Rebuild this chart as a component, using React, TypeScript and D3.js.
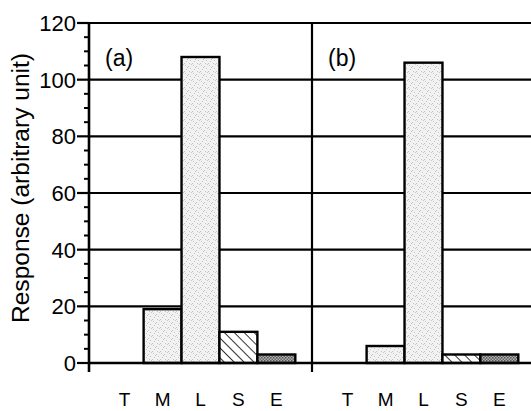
import React from "react";
import * as d3 from "d3";

const categories = ["T", "M", "L", "S", "E"];
const panelLabels = ["(a)", "(b)"];
const valuesA = [0, 19, 108, 11, 3];
const valuesB = [0, 6, 106, 3, 3];
const panels = [valuesA, valuesB];
const yMajorTicks = [0, 20, 40, 60, 80, 100, 120];
const yTitle = "Response (arbitrary unit)";

const W = 531;
const H = 411;
const left = 89;
const panelW = 223;
const top = 23;
const bottom = 363;

const fills = ["none", "url(#stipple)", "url(#stipple)", "url(#hatch)", "url(#dark)"];

export default function App() {
  const y = d3.scaleLinear().domain([0, 120]).range([bottom, top]);
  const minor = d3.range(0, 121, 5).filter((v) => v % 20 !== 0);
  const font = "Liberation Sans, Arial, Helvetica, sans-serif";

  const dots: [number, number][] = [
    [1, 1], [4, 2], [7, 0], [2, 5], [6, 4], [0, 7], [5, 7], [3, 3],
  ];

  return (
    <svg width={W} height={H} style={{ position: "absolute", left: 0, top: 0, background: "#fff" }}>
      <defs>
        <pattern id="stipple" width="8" height="8" patternUnits="userSpaceOnUse">
          <rect width="8" height="8" fill="#f2f2f2" />
          {dots.map(([dx, dy], i) => (
            <rect key={i} x={dx} y={dy} width="1" height="1" fill="#c4c4c4" />
          ))}
        </pattern>
        <pattern id="hatch" width="7" height="7" patternUnits="userSpaceOnUse" patternTransform="rotate(-45)">
          <rect width="7" height="7" fill="#fff" />
          <line x1="0" y1="0" x2="0" y2="7" stroke="#000" strokeWidth="1.6" />
        </pattern>
        <pattern id="dark" width="3" height="3" patternUnits="userSpaceOnUse">
          <rect width="3" height="3" fill="#b0b0b0" />
          <rect x="0" y="0" width="1.5" height="1.5" fill="#555" />
          <rect x="1.5" y="1.5" width="1.5" height="1.5" fill="#666" />
        </pattern>
      </defs>

      {yMajorTicks.filter((v) => v > 0).map((v) => (
        <line key={"g" + v} x1={left} x2={W} y1={y(v)} y2={y(v)} stroke="#000" strokeWidth={2.2} />
      ))}

      {panels.map((vals, pi) => {
        const x0 = left + pi * panelW;
        const xb = d3.scaleBand<string>().domain(categories).range([x0, x0 + panelW]).paddingInner(0).paddingOuter(0.44);
        return (
          <g key={pi}>
            {vals.map((v, i) =>
              v > 0 ? (
                <rect
                  key={i}
                  x={xb(categories[i])!}
                  y={y(v)}
                  width={xb.bandwidth()}
                  height={y(0) - y(v)}
                  fill={fills[i]}
                  stroke="#000"
                  strokeWidth={2.4}
                />
              ) : null
            )}
            {categories.map((c) => (
              <text
                key={c}
                x={xb(c)! + xb.bandwidth() / 2}
                y={406}
                textAnchor="middle"
                fontFamily={font}
                fontSize={19}
                fill="#000"
              >
                {c}
              </text>
            ))}
            <text x={x0 + 16} y={66} fontFamily={font} fontSize={23} fill="#000">
              {panelLabels[pi]}
            </text>
          </g>
        );
      })}

      <line x1={left} x2={W} y1={y(0)} y2={y(0)} stroke="#000" strokeWidth={2.6} />
      <line x1={left} x2={left} y1={top - 1} y2={372} stroke="#000" strokeWidth={2.6} />
      <line x1={left + panelW} x2={left + panelW} y1={top - 1} y2={372} stroke="#000" strokeWidth={2.2} />

      {yMajorTicks.map((v) => (
        <g key={"t" + v}>
          <line x1={left - 12} x2={left} y1={y(v)} y2={y(v)} stroke="#000" strokeWidth={2.2} />
          <text x={left - 13} y={y(v)} dy="0.36em" textAnchor="end" fontFamily={font} fontSize={22} fill="#000">
            {v}
          </text>
        </g>
      ))}
      {minor.map((v) => (
        <line key={"m" + v} x1={left - 5} x2={left} y1={y(v)} y2={y(v)} stroke="#000" strokeWidth={2} />
      ))}

      <text
        transform={`translate(29,${(53 + 323) / 2}) rotate(-90)`}
        textAnchor="middle"
        fontFamily={font}
        fontSize={23}
        textLength={270}
        lengthAdjust="spacingAndGlyphs"
        fill="#000"
      >
        {yTitle}
      </text>
    </svg>
  );
}
